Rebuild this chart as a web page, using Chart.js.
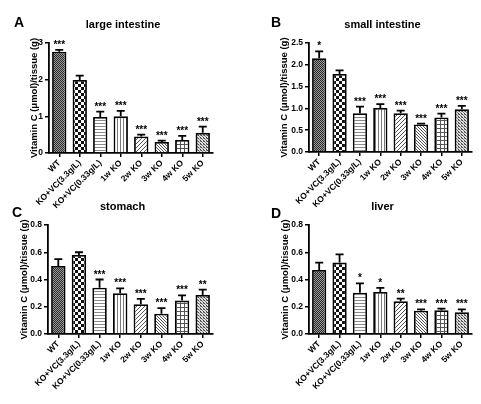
<!DOCTYPE html>
<html>
<head>
<meta charset="utf-8">
<script src="https://cdn.jsdelivr.net/npm/chart.js@4/dist/chart.umd.min.js"></script>
<style>
  body { margin: 0; background: #fff; }
  #wrap { position: relative; width: 481px; height: 404px; overflow: hidden; }
  canvas { position: absolute; }
</style>
</head>
<body>
<div id="wrap">
  <canvas id="chartA" width="240" height="230" style="left:0;top:0"></canvas>
  <canvas id="chartB" width="241" height="230" style="left:240px;top:0"></canvas>
  <canvas id="chartC" width="240" height="209" style="left:0;top:195px"></canvas>
  <canvas id="chartD" width="241" height="209" style="left:240px;top:195px"></canvas>
</div>
<script>
// groups on the x axis
const categories = ['WT', 'KO+VC(3.3g/L)', 'KO+VC(0.33g/L)', '1w KO', '2w KO', '3w KO', '4w KO', '5w KO'];

// A - large intestine
const largeMean  = [2.76, 1.99, 0.98, 1.00, 0.45, 0.30, 0.355, 0.55];
const largeErr   = [0.05, 0.12, 0.15, 0.15, 0.05, 0.04, 0.11, 0.17];
const largeStars = ['***', '', '***', '***', '***', '***', '***', '***'];

// B - small intestine
const smallMean  = [2.15, 1.79, 0.89, 1.01, 0.89, 0.63, 0.79, 0.98];
const smallErr   = [0.16, 0.08, 0.15, 0.09, 0.06, 0.02, 0.09, 0.08];
const smallStars = ['*', '', '***', '***', '***', '***', '***', '***'];

// C - stomach
const stomachMean  = [0.50, 0.58, 0.34, 0.30, 0.218, 0.149, 0.245, 0.286];
const stomachErr   = [0.05, 0.02, 0.06, 0.035, 0.04, 0.041, 0.039, 0.039];
const stomachStars = ['', '', '***', '***', '***', '***', '***', '**'];

// D - liver
const liverMean  = [0.47, 0.524, 0.303, 0.308, 0.24, 0.171, 0.174, 0.159];
const liverErr   = [0.054, 0.061, 0.069, 0.03, 0.02, 0.01, 0.012, 0.022];
const liverStars = ['', '', '*', '*', '**', '***', '***', '***'];

// y tick values and their labels
const ticksLarge = [0, 1, 2, 3];
const tickLabelsLarge = ['0', '1', '2', '3'];
const ticksSmall = [0, 0.5, 1, 1.5, 2, 2.5];
const tickLabelsSmall = ['0.0', '0.5', '1.0', '1.5', '2.0', '2.5'];
const ticksOrgan = [0, 0.2, 0.4, 0.6, 0.8];
const tickLabelsOrgan = ['0.0', '0.2', '0.4', '0.6', '0.8'];

const FONT = '"Liberation Sans", Arial, sans-serif';

// hatch fills, one per group
function makePattern(kind) {
    const c = document.createElement('canvas');
    const g = c.getContext('2d');
    const dot = (x, y, col) => { g.fillStyle = col; g.fillRect(x, y, 1, 1); };
    if (kind === 'fine') {
        c.width = c.height = 2;
        g.fillStyle = '#9a9a9a'; g.fillRect(0, 0, 2, 2);
        dot(0, 0, '#2a2a2a'); dot(1, 1, '#2a2a2a');
    } else if (kind === 'check') {
        c.width = c.height = 6;
        g.fillStyle = '#fff'; g.fillRect(0, 0, 6, 6);
        g.fillStyle = '#111'; g.fillRect(0, 0, 3, 3); g.fillRect(3, 3, 3, 3);
    } else if (kind === 'hlines') {
        c.width = 3; c.height = 3;
        g.fillStyle = '#fff'; g.fillRect(0, 0, 3, 3);
        g.fillStyle = '#8a8a8a'; g.fillRect(0, 0, 3, 1);
    } else if (kind === 'vlines') {
        c.width = 3; c.height = 3;
        g.fillStyle = '#fff'; g.fillRect(0, 0, 3, 3);
        g.fillStyle = '#7a7a7a'; g.fillRect(0, 0, 1, 3);
    } else if (kind === 'diagUp') {
        c.width = c.height = 4;
        g.fillStyle = '#fff'; g.fillRect(0, 0, 4, 4);
        for (let i = 0; i < 4; i++) dot(3 - i, i, '#555');
    } else if (kind === 'diagDown') {
        c.width = c.height = 3;
        g.fillStyle = '#fff'; g.fillRect(0, 0, 3, 3);
        for (let i = 0; i < 3; i++) dot(i, i, '#555');
    } else if (kind === 'grid') {
        c.width = c.height = 4;
        g.fillStyle = '#fff'; g.fillRect(0, 0, 4, 4);
        g.fillStyle = '#555'; g.fillRect(0, 0, 4, 1); g.fillRect(0, 0, 1, 4);
    } else {
        c.width = c.height = 3;
        g.fillStyle = '#e0e0e0'; g.fillRect(0, 0, 3, 3);
        dot(0, 0, '#444'); dot(1, 1, '#888'); dot(2, 2, '#444'); dot(2, 0, '#888');
    }
    return g.createPattern(c, 'repeat');
}
const fills = ['fine', 'check', 'hlines', 'vlines', 'diagUp', 'diagDown', 'grid', 'dots'].map(makePattern);

// error bars (upper only) and significance stars
const errorBars = {
    id: 'errorBars',
    afterDatasetsDraw(chart, args, opts) {
        const { ctx } = chart;
        const y = chart.scales.y;
        chart.getDatasetMeta(0).data.forEach((bar, i) => {
            const top = y.getPixelForValue(opts.means[i] + opts.errors[i]);
            ctx.save();
            ctx.strokeStyle = '#000';
            ctx.lineWidth = 1.8;
            ctx.beginPath();
            ctx.moveTo(bar.x, bar.y);
            ctx.lineTo(bar.x, top);
            ctx.moveTo(bar.x - 4, top);
            ctx.lineTo(bar.x + 4, top);
            ctx.stroke();
            if (opts.stars[i]) {
                ctx.fillStyle = '#000';
                ctx.font = 'bold 10px ' + FONT;
                ctx.textAlign = 'center';
                ctx.textBaseline = 'alphabetic';
                ctx.fillText(opts.stars[i], bar.x, top - 2);
            }
            ctx.restore();
        });
    }
};

// panel letter + panel title
const panelText = {
    id: 'panelText',
    afterDraw(chart, args, opts) {
        const { ctx, chartArea } = chart;
        ctx.save();
        ctx.fillStyle = '#000';
        ctx.textBaseline = 'alphabetic';
        ctx.font = 'bold 14px ' + FONT;
        ctx.textAlign = 'left';
        ctx.fillText(opts.letter, opts.letterX, opts.letterY);
        ctx.font = 'bold 11px ' + FONT;
        ctx.textAlign = 'center';
        ctx.fillText(opts.title, (chartArea.left + chartArea.right) / 2 - 8, chartArea.top - 15);
        ctx.restore();
    }
};

function makePanel(id, p) {
    new Chart(document.getElementById(id), {
        type: 'bar',
        data: {
            labels: categories,
            datasets: [{
                data: p.means,
                backgroundColor: fills,
                borderColor: '#000',
                borderWidth: 1.8,
                borderSkipped: 'bottom',
                barPercentage: 0.7,
                categoryPercentage: 1
            }]
        },
        options: {
            responsive: false,
            animation: false,
            events: [],
            layout: { padding: { left: p.padLeft, top: p.padTop, right: p.padRight, bottom: 0 } },
            plugins: {
                legend: { display: false },
                tooltip: { enabled: false },
                errorBars: { means: p.means, errors: p.errors, stars: p.stars },
                panelText: { letter: p.letter, letterX: p.letterX, letterY: p.letterY, title: p.title }
            },
            scales: {
                x: {
                    offset: true,
                    grid: { display: true, offset: false, drawOnChartArea: false, tickLength: 4, color: '#000', lineWidth: 1.5 },
                    border: { color: '#000', width: 1.8 },
                    ticks: {
                        color: '#000', font: { family: FONT, size: 8.5, weight: 'bold' },
                        minRotation: 45, maxRotation: 45, autoSkip: false, padding: 1
                    },
                    afterFit: s => { s.height = p.xHeight; }
                },
                y: {
                    min: 0,
                    max: p.ticks[p.ticks.length - 1],
                    afterBuildTicks: s => { s.ticks = p.ticks.map(v => ({ value: v })); },
                    grid: { display: true, drawOnChartArea: false, tickLength: 4, color: '#000', lineWidth: 1.5 },
                    border: { color: '#000', width: 1.8 },
                    ticks: {
                        color: '#000', font: { family: FONT, size: 8.5, weight: 'bold' }, padding: 2,
                        callback: (v, i) => p.tickLabels[i]
                    },
                    title: {
                        display: true,
                        text: 'Vitamin C (\u03bcmol)/tissue (g)',
                        color: '#000',
                        font: { family: FONT, size: 9.5, weight: 'bold' },
                        padding: { top: 4, bottom: 4 }
                    },
                    afterFit: s => { s.width = p.yWidth; }
                }
            }
        },
        plugins: [errorBars, panelText]
    });
}

makePanel('chartA', {
    means: largeMean, errors: largeErr, stars: largeStars,
    ticks: ticksLarge, tickLabels: tickLabelsLarge,
    letter: 'A', letterX: 14, letterY: 27, title: 'large intestine',
    padLeft: 25, yWidth: 24, padTop: 43, padRight: 27, xHeight: 77
});
makePanel('chartB', {
    means: smallMean, errors: smallErr, stars: smallStars,
    ticks: ticksSmall, tickLabels: tickLabelsSmall,
    letter: 'B', letterX: 31, letterY: 27, title: 'small intestine',
    padLeft: 35, yWidth: 34, padTop: 43, padRight: 9, xHeight: 78
});
makePanel('chartC', {
    means: stomachMean, errors: stomachErr, stars: stomachStars,
    ticks: ticksOrgan, tickLabels: tickLabelsOrgan,
    letter: 'C', letterX: 12, letterY: 22, title: 'stomach',
    padLeft: 15, yWidth: 33, padTop: 30, padRight: 27, xHeight: 70
});
makePanel('chartD', {
    means: liverMean, errors: liverErr, stars: liverStars,
    ticks: ticksOrgan, tickLabels: tickLabelsOrgan,
    letter: 'D', letterX: 31, letterY: 23, title: 'liver',
    padLeft: 36, yWidth: 33, padTop: 30, padRight: 9, xHeight: 70
});
</script>
</body>
</html>
